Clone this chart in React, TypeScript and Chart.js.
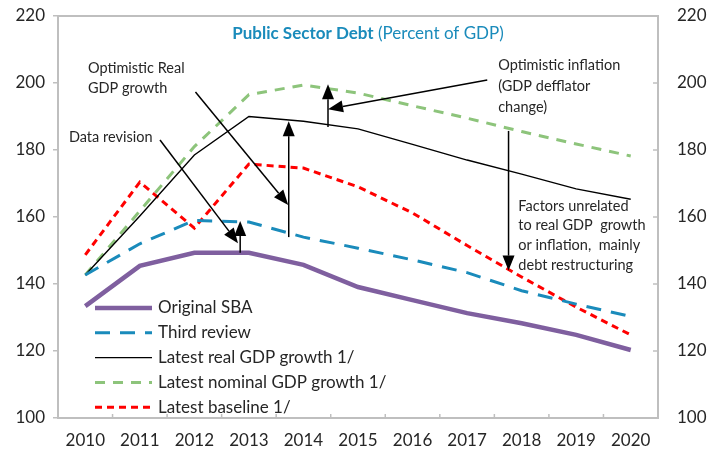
import React, { useEffect, useRef } from "react";
import { Chart, registerables } from "chart.js";

Chart.register(...registerables);

const years = ["2010", "2011", "2012", "2013", "2014", "2015", "2016", "2017", "2018", "2019", "2020"];
const originalSBA = [133.4, 145.4, 149.3, 149.3, 145.7, 139.1, 135.2, 131.3, 128.3, 124.8, 120.3];
const thirdReview = [142.7, 152.0, 159.0, 158.5, 154.0, 150.7, 147.2, 143.4, 138.0, 134.0, 130.3];
const latestReal = [142.7, 160.3, 178.5, 190.0, 188.6, 186.3, 181.7, 177.0, 172.8, 168.4, 165.3];
const latestNominal = [142.7, 161.8, 181.0, 196.5, 199.4, 197.0, 193.2, 189.5, 185.5, 181.8, 178.2];
const latestBaseline = [148.7, 170.4, 156.7, 175.8, 174.6, 169.0, 161.2, 151.5, 142.1, 133.1, 124.8];
const yMin = 100;
const yMax = 220;
const yStep = 20;

const seriesNames = [
  "Original SBA",
  "Third review",
  "Latest real GDP growth 1/",
  "Latest nominal GDP growth 1/",
  "Latest baseline 1/",
];

const FONT = "Lato, 'Open Sans', sans-serif";
const TEXT = "#262626";
const AXIS = "#bfbfbf";

// annotations in data space: x as fractional category index, y as value
const annotationTexts = [
  { x: -0.3, y: 183.9, lines: ["Data revision"] },
  { x: 0.05, y: 204.5, lines: ["Optimistic Real", "GDP growth"], dy: 6.0 },
  { x: 7.57, y: 205.4, lines: ["Optimistic inflation", "(GDP defflator", "change)"], dy: 6.4 },
  { x: 7.94, y: 163.3, lines: ["Factors unrelated", "to real GDP  growth", "or inflation,  mainly", "debt restructuring"], dy: 5.9 },
];
const arrows = [
  { x1: 1.37, y1: 183.0, x2: 2.8, y2: 152.2 },
  { x1: 2.84, y1: 149.3, x2: 2.84, y2: 158.8 },
  { x1: 2.02, y1: 197.3, x2: 3.72, y2: 163.6 },
  { x1: 3.73, y1: 154.0, x2: 3.73, y2: 188.6 },
  { x1: 7.37, y1: 200.9, x2: 4.45, y2: 192.2 },
  { x1: 4.45, y1: 186.9, x2: 4.45, y2: 199.6 },
  { x1: 7.76, y1: 185.7, x2: 7.76, y2: 144.0 },
];

const styles = [
  { color: "#7f5f9f", width: 4.5, dash: [] as number[] },
  { color: "#1a8bbb", width: 3, dash: [15, 10] },
  { color: "#000000", width: 1.4, dash: [] as number[] },
  { color: "#8dc47b", width: 3, dash: [10, 8] },
  { color: "#ff0000", width: 3, dash: [7, 5] },
];

function drawArrow(ctx: CanvasRenderingContext2D, x1: number, y1: number, x2: number, y2: number) {
  const ang = Math.atan2(y2 - y1, x2 - x1);
  const hl = 15;
  const hw = 6;
  const bx = x2 - hl * Math.cos(ang);
  const by = y2 - hl * Math.sin(ang);
  ctx.save();
  ctx.strokeStyle = "#000";
  ctx.fillStyle = "#000";
  ctx.lineWidth = 1.5;
  ctx.setLineDash([]);
  ctx.beginPath();
  ctx.moveTo(x1, y1);
  ctx.lineTo(bx, by);
  ctx.stroke();
  ctx.beginPath();
  ctx.moveTo(x2, y2);
  ctx.lineTo(bx + hw * Math.sin(ang), by - hw * Math.cos(ang));
  ctx.lineTo(bx - hw * Math.sin(ang), by + hw * Math.cos(ang));
  ctx.closePath();
  ctx.fill();
  ctx.restore();
}

const overlayPlugin = {
  id: "overlay",
  afterDatasetsDraw(chart: any) {
    const ctx: CanvasRenderingContext2D = chart.ctx;
    const { left, right, top, bottom } = chart.chartArea;
    const xs = chart.scales.x;
    const ys = chart.scales.y;
    const px = (i: number) => {
      const a = xs.getPixelForValue(0);
      const b = xs.getPixelForValue(1);
      return a + (b - a) * i;
    };
    const py = (v: number) => ys.getPixelForValue(v);

    ctx.save();
    // frame top line & inside ticks
    ctx.strokeStyle = AXIS;
    ctx.lineWidth = 2;
    ctx.beginPath();
    ctx.moveTo(left, top);
    ctx.lineTo(right, top);
    ctx.stroke();
    ctx.lineWidth = 1.5;
    for (let i = 0; i <= years.length; i++) {
      const x = px(i - 0.5);
      ctx.beginPath();
      ctx.moveTo(x, bottom);
      ctx.lineTo(x, bottom - 4);
      ctx.stroke();
    }
    for (let v = yMin; v <= yMax; v += yStep) {
      const y = py(v);
      ctx.beginPath();
      ctx.moveTo(right, y);
      ctx.lineTo(right - 5, y);
      ctx.stroke();
    }

    // title
    ctx.textBaseline = "middle";
    ctx.textAlign = "left";
    const t1 = "Public Sector Debt";
    const t2 = " (Percent of GDP)";
    ctx.font = `bold 17px ${FONT}`;
    const w1 = ctx.measureText(t1).width;
    ctx.font = `17px ${FONT}`;
    const w2 = ctx.measureText(t2).width;
    const tx = (left + right) / 2 + 10 - (w1 + w2) / 2;
    const ty = top + 18;
    ctx.fillStyle = "#1a8bbb";
    ctx.font = `bold 17px ${FONT}`;
    ctx.fillText(t1, tx, ty);
    ctx.font = `17px ${FONT}`;
    ctx.fillText(t2, tx + w1, ty);

    // annotations
    ctx.fillStyle = TEXT;
    ctx.font = `14.5px ${FONT}`;
    annotationTexts.forEach((a) => {
      a.lines.forEach((ln, k) => {
        ctx.fillText(ln, px(a.x), py(a.y - k * (a.dy || 0)));
      });
    });
    arrows.forEach((a) => drawArrow(ctx, px(a.x1), py(a.y1), px(a.x2), py(a.y2)));

    // legend
    const lx0 = left + 37;
    const lx1 = left + 94;
    const tx0 = left + 100;
    ctx.font = `17px ${FONT}`;
    seriesNames.forEach((name, i) => {
      const y = bottom - 110 + i * 24.8;
      const s = styles[i];
      ctx.strokeStyle = s.color;
      ctx.lineWidth = s.width;
      ctx.setLineDash(s.dash);
      ctx.lineCap = "butt";
      ctx.beginPath();
      ctx.moveTo(lx0, y);
      ctx.lineTo(lx1, y);
      ctx.stroke();
      ctx.setLineDash([]);
      ctx.fillStyle = TEXT;
      ctx.fillText(name, tx0, y);
    });
    ctx.restore();
  },
};

export default function App() {
  const ref = useRef<HTMLCanvasElement>(null);
  useEffect(() => {
    document.body.style.margin = "0";
    const series = [originalSBA, thirdReview, latestReal, latestNominal, latestBaseline];
    const chart = new Chart(ref.current as HTMLCanvasElement, {
      type: "line",
      data: {
        labels: years,
        datasets: series.map((d, i) => ({
          label: seriesNames[i],
          data: d,
          borderColor: styles[i].color,
          borderWidth: styles[i].width,
          borderDash: styles[i].dash,
          pointRadius: 0,
          tension: 0,
          fill: false,
        })),
      },
      options: {
        responsive: false,
        animation: false,
        layout: { padding: { top: 16, left: 0, right: 0, bottom: 0 } },
        plugins: { legend: { display: false }, title: { display: false }, tooltip: { enabled: false } },
        scales: {
          x: {
            type: "category",
            offset: true,
            grid: { display: false, drawTicks: false },
            border: { color: AXIS, width: 2 },
            ticks: { font: { family: FONT, size: 17 }, color: TEXT, padding: 12, maxRotation: 0, autoSkip: false },
            afterFit: (s: any) => { s.height = 33; s.paddingLeft = 0; s.paddingRight = 0; },
          },
          y: {
            position: "left",
            min: yMin,
            max: yMax,
            grid: { drawOnChartArea: false, tickLength: 5, color: AXIS, lineWidth: 1.5 },
            border: { color: AXIS, width: 2 },
            ticks: { stepSize: yStep, font: { family: FONT, size: 17 }, color: TEXT, padding: 8 },
            afterFit: (s: any) => { s.width = 58; s.paddingTop = 0; s.paddingBottom = 0; },
          },
          y2: {
            position: "right",
            min: yMin,
            max: yMax,
            grid: { drawOnChartArea: false, drawTicks: false },
            border: { color: AXIS, width: 2 },
            ticks: { stepSize: yStep, font: { family: FONT, size: 17 }, color: TEXT, padding: 19 },
            afterFit: (s: any) => { s.width = 49; s.paddingTop = 0; s.paddingBottom = 0; },
          },
        },
      },
      plugins: [overlayPlugin],
    } as any);
    return () => chart.destroy();
  }, []);
  return <canvas ref={ref} width={707} height={451} style={{ display: "block" }} />;
}
